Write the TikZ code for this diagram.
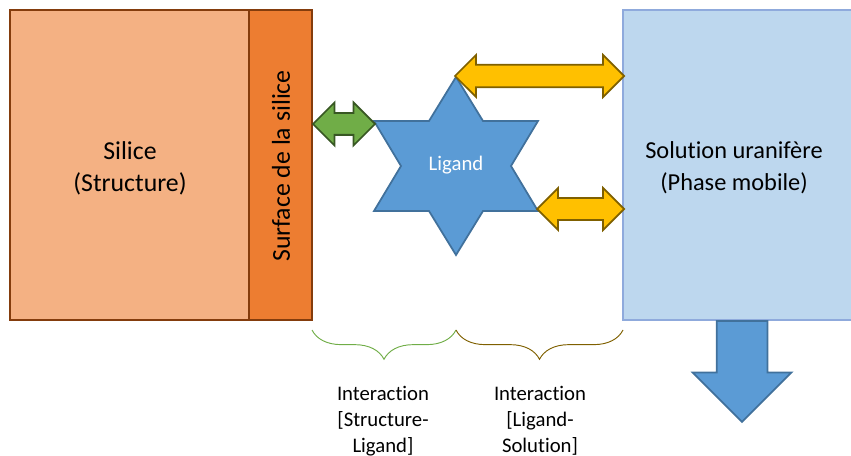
\documentclass[tikz,border=0pt]{standalone}
\usepackage{fontspec}
\setmainfont{Carlito}[Ligatures=NoCommon]
\usetikzlibrary{shapes.arrows,decorations.pathreplacing}

\definecolor{silicefill}{HTML}{F4B183}
\definecolor{surfacefill}{HTML}{ED7D31}
\definecolor{silicedraw}{HTML}{843C0C}
\definecolor{solutionfill}{HTML}{BDD7EE}
\definecolor{solutiondraw}{HTML}{8FAADC}
\definecolor{bluefill}{HTML}{5B9BD5}
\definecolor{bluedraw}{HTML}{41719C}
\definecolor{greenfill}{HTML}{70AD47}
\definecolor{greendraw}{HTML}{385723}
\definecolor{yellowfill}{HTML}{FFC000}
\definecolor{yellowdraw}{HTML}{7F6000}

\begin{document}
\begin{tikzpicture}[x=0.03cm,y=-0.03cm,
    bigtext/.style={font=\fontsize{22}{27.5}\selectfont,align=center,inner sep=0pt},
    smalltext/.style={font=\fontsize{17.7}{22}\selectfont,align=center,inner sep=0pt},
    blockarrow/.style={double arrow,inner xsep=0pt,line width=1.5pt},
    interbrace/.style={decorate,decoration={brace,mirror,amplitude=25pt},line width=0.8pt}]
\useasboundingbox (0,0) rectangle (851,456);

% Silica block
\draw[fill=silicefill,draw=silicedraw,line width=1.5pt] (10,10) rectangle (249,320);
\node[bigtext] (silice) at (130,168) {Silice\\(Structure)};

% Surface layer
\draw[fill=surfacefill,draw=silicedraw,line width=1.5pt] (249,10) rectangle (312,320);
\node[bigtext,rotate=90] (surface) at (281,166) {Surface de la silice};

% Mobile phase
\draw[fill=solutionfill,draw=solutiondraw,line width=1.5pt] (623,10) rectangle (875,320);
\node[bigtext,font=\fontsize{20.8}{27.5}\selectfont] (solution) at (734,168) {Solution uranifère\\(Phase mobile)};

% Ligand star
\draw[fill=bluefill,draw=bluedraw,line width=1.5pt]
    (456,77) -- (483,121) -- (538,121) -- (511,166) -- (538,211) -- (483,211)
    -- (456,255) -- (429,211) -- (374,211) -- (401,166) -- (374,121) -- (429,121) -- cycle;
\node[smalltext,text=white] (ligand) at (456,165) {Ligand};

% Interactions
\node[blockarrow,fill=greenfill,draw=greendraw,minimum height=1.86cm,inner ysep=0.3cm,
    minimum width=1.29cm,double arrow head extend=0.32cm] (surfligand) at (344,124) {};
\node[blockarrow,fill=yellowfill,draw=yellowdraw,minimum height=5.07cm,inner ysep=0.31cm,
    minimum width=1.26cm,double arrow head extend=0.29cm] (ligandsolA) at (539.5,76) {};
\node[blockarrow,fill=yellowfill,draw=yellowdraw,minimum height=2.61cm,inner ysep=0.3cm,
    minimum width=1.26cm,double arrow head extend=0.3cm] (ligandsolB) at (580.5,209) {};

% Flow out
\node[single arrow,inner xsep=0pt,inner ysep=0.735cm,line width=1.5pt,fill=bluefill,draw=bluedraw,
    rotate=-90,minimum height=3.03cm,minimum width=2.94cm,
    single arrow head extend=0.72cm,anchor=tail] (outflow) at (742,320) {};

% Braces
\draw[interbrace,draw=greenfill] (312,330) -- (456,330);
\draw[interbrace,draw=yellowdraw] (456,330) -- (623,330);
\node[smalltext] (intstruct) at (383,421) {Interaction\\{[}Structure-\\Ligand{]}};
\node[smalltext] (intsol) at (540,421) {Interaction\\{[}Ligand-\\Solution{]}};

\end{tikzpicture}
\end{document}
